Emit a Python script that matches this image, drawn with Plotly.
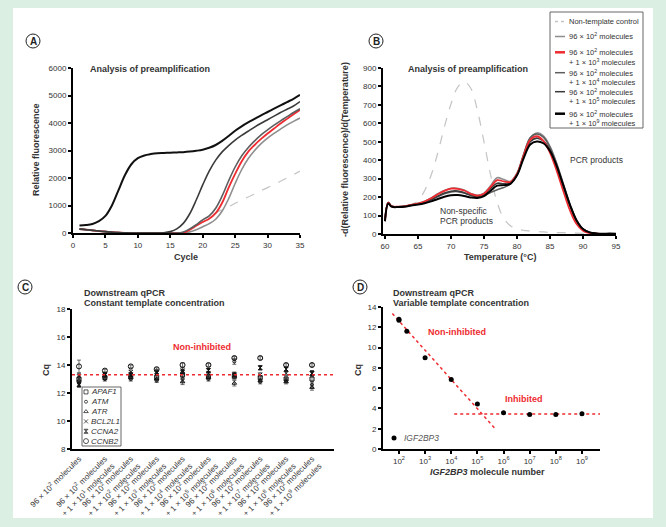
import plotly.graph_objects as go

W, H = 666, 527

# ---------------- data ----------------
# Panel A: amplification curves (cycle 1..35)
cycles = list(range(1, 36))
amp_1e9 = [270, 290, 330, 430, 620, 1000, 1550, 2100, 2500, 2720, 2820, 2870, 2900, 2910, 2920,
           2930, 2940, 2960, 2990, 3030, 3100, 3200, 3350, 3530, 3720, 3880, 4020, 4150, 4280,
           4400, 4520, 4640, 4760, 4880, 5020]
amp_1e5 = [140, 120, 95, 70, 50, 30, 15, 5, 0, 0, 0, 0, 0, 10, 50,
           150, 350, 700, 1200, 1750, 2250, 2650, 2950, 3180, 3380, 3550, 3700, 3850, 3990,
           4120, 4250, 4380, 4500, 4620, 4780]
amp_1e4 = [140, 120, 95, 70, 50, 30, 15, 5, 0, 0, 0, 0, 0, 0, 0,
           0, 40, 150, 300, 480, 620, 900, 1350, 1900, 2400, 2800, 3100, 3350, 3570,
           3750, 3920, 4080, 4230, 4380, 4520]
amp_1e3 = [140, 120, 95, 70, 50, 30, 15, 5, 0, 0, 0, 0, 0, 0, 0,
           0, 0, 120, 260, 400, 520, 720, 1100, 1650, 2150, 2600, 2950, 3200, 3420,
           3620, 3800, 3980, 4150, 4320, 4480]
amp_96e2 = [150, 125, 100, 75, 50, 30, 15, 5, 0, 0, 0, 0, 0, 0, 0,
            0, 0, 40, 120, 230, 340, 500, 800, 1250, 1800, 2300, 2700, 3000, 3250,
            3450, 3620, 3780, 3930, 4060, 4180]
amp_ntc = [None] * 16 + [0, 120, 300, 480, 610, 730, 850, 960, 1080, 1190, 1310, 1420, 1540,
                         1650, 1770, 1880, 2000, 2120, 2250]

# Panel B: melt curves
temps = [60, 60.5] + list(range(61, 96))
melt_ntc = [80, 160, 150, 148, 150, 160, 180, 235, 320, 440, 580, 705, 795, 826, 790, 670, 500,
            320, 170, 85, 45, 28, 20, 16, 13, 11, 9, 8, 7, 6, 5, 4, 3, 2, 2, 1, 1]
melt_96e2 = [70, 170, 150, 148, 150, 158, 166, 178, 196, 218, 236, 248, 248, 238, 220, 210, 222,
             262, 305, 295, 285, 330, 430, 520, 548, 532, 475, 385, 275, 165, 78, 28, 9, 3, 1, 0, 0]
melt_1e3 = [70, 170, 150, 148, 150, 158, 165, 176, 194, 215, 234, 246, 245, 236, 218, 208, 218,
            255, 292, 285, 282, 325, 425, 510, 530, 505, 440, 345, 235, 130, 55, 18, 5, 2, 0, 0, 0]
melt_1e4 = [70, 170, 150, 148, 150, 157, 163, 172, 186, 203, 218, 228, 230, 222, 210, 204, 210,
            225, 240, 252, 272, 325, 430, 522, 542, 525, 470, 380, 270, 160, 75, 26, 8, 3, 1, 0, 0]
melt_1e5 = [70, 170, 150, 148, 150, 157, 163, 172, 187, 205, 222, 232, 233, 224, 210, 203, 215,
            248, 275, 272, 275, 320, 420, 500, 520, 505, 455, 372, 265, 158, 72, 25, 8, 3, 1, 0, 0]
melt_1e9 = [70, 165, 148, 146, 148, 155, 160, 167, 177, 190, 202, 210, 211, 206, 198, 195, 205,
            235, 262, 265, 272, 318, 410, 485, 502, 492, 450, 370, 265, 160, 75, 27, 9, 3, 1, 3, 1]

# Panel C: Cq per condition and gene
c_cats = list(range(10))
c_labels = ["96 × 10<sup>2</sup> molecules"] + [
    "96 × 10<sup>2</sup> molecules<br>+ 1 × 10<sup>%d</sup> molecules" % e for e in range(1, 10)]
genes = ["APAF1", "ATM", "ATR", "BCL2L1", "CCNA2", "CCNB2"]
gene_symbols = ["square-open", "circle-open", "triangle-up-open", "x-thin-open", "hourglass", "circle-open"]
gene_sizes = [4, 3, 4, 4, 4, 5]
cq_apaf1 = [13.0, 13.1, 13.2, 13.1, 13.3, 13.2, 13.2, 13.1, 13.0, 13.0]
cq_atm = [12.7, 13.0, 13.0, 12.9, 13.0, 13.0, 14.25, 12.8, 12.9, 12.6]
cq_atr = [12.9, 13.2, 13.1, 13.0, 12.8, 13.1, 12.7, 12.9, 12.8, 12.4]
cq_bcl2l1 = [13.2, 13.3, 13.5, 13.4, 13.6, 13.4, 13.2, 13.3, 13.4, 13.4]
cq_ccna2 = [12.6, 13.3, 13.3, 13.5, 13.5, 13.6, 13.3, 13.8, 13.7, 13.4]
cq_ccnb2 = [13.9, 13.6, 13.9, 13.7, 14.0, 14.0, 14.5, 14.5, 14.0, 14.0]
cq_err = [0.2, 0.15, 0.15, 0.15, 0.2, 0.15, 0.2, 0.15, 0.15, 0.2]
cq_err_ccnb2 = [0.45, 0.1, 0.1, 0.1, 0.15, 0.1, 0.1, 0.1, 0.1, 0.1]
cq_mean = 13.3

# Panel D: dilution series
d_mol = [1e2, 1e2, 2e2, 1e3, 1e4, 1e5, 1e6, 1e7, 1e8, 1e9]
d_cq = [12.8, 12.7, 11.6, 9.0, 6.85, 4.43, 3.57, 3.41, 3.41, 3.48]
fit_lin_x = [56, 5.0e5]
fit_lin_y = [13.35, 1.95]
fit_inh_x = [1.3e4, 4.9e9]
fit_inh_y = [3.44, 3.44]

# ---------------- helpers ----------------
def px(x):
    return x / W

def py(y):
    return 1 - y / H

FONT = "Arial, Liberation Sans, sans-serif"
TXT = "#333333"
RED = "#ee2b30"

fig = go.Figure()

# Panel A
a_styles = [
    (amp_ntc, "#c4c4c4", 1.2, "dash"),
    (amp_96e2, "#8e8e8e", 1.6, "solid"),
    (amp_1e3, RED, 1.8, "solid"),
    (amp_1e4, "#5e5e5e", 1.6, "solid"),
    (amp_1e5, "#3a3a3a", 1.6, "solid"),
    (amp_1e9, "#111111", 2.0, "solid"),
]
for ys, col, w, dash in a_styles:
    fig.add_trace(go.Scatter(x=cycles, y=ys, mode="lines", line=dict(color=col, width=w, dash=dash, shape="spline"),
                             xaxis="x", yaxis="y", showlegend=False, connectgaps=False))

# Panel B
b_styles = [
    (melt_ntc, "#c4c4c4", 1.2, "dash"),
    (melt_96e2, "#8e8e8e", 1.6, "solid"),
    (melt_1e4, "#5e5e5e", 1.6, "solid"),
    (melt_1e5, "#3a3a3a", 1.6, "solid"),
    (melt_1e3, RED, 1.8, "solid"),
    (melt_1e9, "#000000", 2.0, "solid"),
]
for ys, col, w, dash in b_styles:
    fig.add_trace(go.Scatter(x=temps, y=ys, mode="lines", line=dict(color=col, width=w, dash=dash, shape="spline"),
                             xaxis="x2", yaxis="y2", showlegend=False))

# Panel C
c_series = [cq_apaf1, cq_atm, cq_atr, cq_bcl2l1, cq_ccna2, cq_ccnb2]
for i, ys in enumerate(c_series):
    err = cq_err_ccnb2 if genes[i] == "CCNB2" else cq_err
    fig.add_trace(go.Scatter(x=c_cats, y=ys, mode="markers",
                             marker=dict(symbol=gene_symbols[i], size=gene_sizes[i], color="#111",
                                         line=dict(color="#111", width=1)),
                             error_y=dict(type="data", array=err, color="#333", thickness=0.7, width=2),
                             xaxis="x3", yaxis="y3", showlegend=False))

# Panel D
fig.add_trace(go.Scatter(x=fit_lin_x, y=fit_lin_y, mode="lines", line=dict(color=RED, width=1.5, dash="dot"),
                         xaxis="x4", yaxis="y4", showlegend=False))
fig.add_trace(go.Scatter(x=fit_inh_x, y=fit_inh_y, mode="lines", line=dict(color=RED, width=1.5, dash="dot"),
                         xaxis="x4", yaxis="y4", showlegend=False, cliponaxis=False))
fig.add_trace(go.Scatter(x=d_mol, y=d_cq, mode="markers", marker=dict(color="#000", size=5),
                         xaxis="x4", yaxis="y4", showlegend=False))

# legend markers for panel C (small overlay axis)
fig.add_trace(go.Scatter(x=[0.5] * len(genes), y=[i + 0.5 for i in range(len(genes))], mode="markers",
                         marker=dict(symbol=gene_symbols, size=gene_sizes, color="#111",
                                     line=dict(color="#111", width=1)),
                         xaxis="x5", yaxis="y5", showlegend=False, hoverinfo="skip"))

tickfont = dict(family=FONT, size=8, color=TXT)
axline = dict(showline=True, linecolor="#000", linewidth=2, ticks="outside", ticklen=3, tickwidth=1.5,
              tickcolor="#000", showgrid=False, zeroline=False, tickfont=tickfont, automargin=False)

fig.update_layout(
    width=W, height=H, autosize=False,
    margin=dict(l=0, r=0, t=0, b=0, pad=0, autoexpand=False),
    paper_bgcolor="#dcefe3", plot_bgcolor="rgba(0,0,0,0)",
    font=dict(family=FONT, color=TXT),
    xaxis=dict(domain=[px(73), px(300)], range=[0, 35], tickvals=[0, 5, 10, 15, 20, 25, 30, 35], anchor="y", **axline),
    yaxis=dict(domain=[py(233), py(68)], range=[0, 6000], tickvals=[0, 1000, 2000, 3000, 4000, 5000, 6000],
               anchor="x", **axline),
    xaxis2=dict(domain=[px(383), px(616)], range=[59.7, 95], tickvals=[60, 65, 70, 75, 80, 85, 90, 95],
                anchor="y2", **axline),
    yaxis2=dict(domain=[py(234), py(68)], range=[0, 900], tickvals=list(range(0, 901, 100)), anchor="x2", **axline),
    xaxis3=dict(domain=[px(72), px(334)], range=[-0.27, 9.85], tickvals=c_cats, ticktext=c_labels, tickangle=-45,
                anchor="y3", showline=True, linecolor="#000", linewidth=2, ticks="", showgrid=False, zeroline=False,
                automargin=False, tickfont=dict(family=FONT, size=8, color="#333")),
    yaxis3=dict(domain=[py(449), py(309)], range=[8, 18], tickvals=[8, 10, 12, 14, 16, 18], anchor="x3", **axline),
    xaxis4=dict(domain=[px(383), px(600)], type="log", range=[1.39, 9.69],
                tickvals=[1e2, 1e3, 1e4, 1e5, 1e6, 1e7, 1e8, 1e9],
                ticktext=["10<sup>%d</sup>" % e for e in range(2, 10)], anchor="y4", **axline),
    yaxis4=dict(domain=[py(449), py(307)], range=[0, 14], tickvals=[0, 2, 4, 6, 8, 10, 12, 14], anchor="x4", **axline),
    xaxis5=dict(domain=[px(82), px(90)], range=[0, 1], visible=False, anchor="y5", fixedrange=True),
    yaxis5=dict(domain=[py(446), py(387)], range=[6, 0], visible=False, anchor="x5", fixedrange=True),
)

shapes = [
    dict(type="rect", xref="paper", yref="paper", x0=px(13), x1=px(653), y0=py(518), y1=py(8),
         fillcolor="white", line=dict(width=0), layer="below"),
    # panel B legend box
    dict(type="rect", xref="paper", yref="paper", x0=px(550), x1=px(643), y0=py(128), y1=py(12),
         fillcolor="white", line=dict(color="#666", width=1)),
    # panel C legend box
    dict(type="rect", xref="paper", yref="paper", x0=px(82), x1=px(121), y0=py(446), y1=py(387),
         fillcolor="white", line=dict(color="#666", width=1), layer="below"),
    # panel C mean line
    dict(type="line", xref="x3 domain", yref="y3", x0=0, x1=1, y0=cq_mean, y1=cq_mean,
         line=dict(color=RED, width=1.5, dash="dot")),
    # panel D legend dot
    dict(type="circle", xref="paper", yref="paper", x0=px(391.5), x1=px(396.5), y0=py(440.5), y1=py(435.5),
         fillcolor="#000", line=dict(width=0)),
]

annotations = []

def txt(x, y, s, size=8, bold=False, color=TXT, xanchor="left", angle=0, italic=False):
    if italic:
        s = "<i>" + s + "</i>"
    if bold:
        s = "<b>" + s + "</b>"
    annotations.append(dict(x=px(x), y=py(y), xref="paper", yref="paper", text=s, showarrow=False,
                            xanchor=xanchor, yanchor="middle", textangle=angle,
                            font=dict(family=FONT, size=size, color=color)))

# circled panel letters
for letter, cx, cy in [("A", 33, 41), ("B", 376, 41), ("C", 25, 287), ("D", 360, 287)]:
    shapes.append(dict(type="circle", xref="paper", yref="paper", x0=px(cx - 7), x1=px(cx + 7),
                       y0=py(cy + 7), y1=py(cy - 7), line=dict(color="#222", width=1), fillcolor="white"))
    txt(cx, cy + 0.5, letter, size=10, bold=True, color="#222", xanchor="center")

# panel A text
txt(88, 69, "Analysis of preamplification", size=9, bold=True)
txt(36, 150, "Relative fluorescence", size=9, bold=True, xanchor="center", angle=-90)
txt(186, 257, "Cycle", size=9, bold=True, xanchor="center")

# panel B text
txt(406, 69, "Analysis of preamplification", size=9, bold=True)
txt(345, 150, "-d(Relative fluorescence)/d(Temperature)", size=9, bold=True, xanchor="center", angle=-90)
txt(500, 257, "Temperature (°C)", size=9, bold=True, xanchor="center")
txt(568, 160, "PCR products", size=8.5)
txt(438, 211, "Non-specific", size=8.5)
txt(438, 220.5, "PCR products", size=8.5)

# panel B legend
leg_items = [
    ("Non-template control", None, 21.5, "#c4c4c4", "dash"),
    ("96 × 10<sup>2</sup> molecules", None, 36.5, "#8e8e8e", "solid"),
    ("96 × 10<sup>2</sup> molecules", "+ 1 × 10<sup>3</sup> molecules", 52.3, RED, "solid"),
    ("96 × 10<sup>2</sup> molecules", "+ 1 × 10<sup>4</sup> molecules", 72.7, "#5e5e5e", "solid"),
    ("96 × 10<sup>2</sup> molecules", "+ 1 × 10<sup>5</sup> molecules", 91.7, "#3a3a3a", "solid"),
    ("96 × 10<sup>2</sup> molecules", "+ 1 × 10<sup>9</sup> molecules", 113.7, "#000000", "solid"),
]
for l1, l2, yy, col, dash in leg_items:
    w = 2.5 if col in (RED, "#000000") else 1.5
    shapes.append(dict(type="line", xref="paper", yref="paper", x0=px(555), x1=px(565), y0=py(yy), y1=py(yy),
                       line=dict(color=col, width=w, dash="dot" if dash == "dash" else "solid")))
    txt(567, yy, l1, size=7.5)
    if l2:
        txt(567, yy + 9.5, l2, size=7.5)

# panel C text
txt(82, 293, "Downstream qPCR", size=9, bold=True)
txt(82, 303, "Constant template concentration", size=9, bold=True)
txt(46, 370, "Cq", size=9, bold=True, xanchor="center", angle=-90)
txt(202, 347, "Non-inhibited", size=9, bold=True, color=RED, xanchor="center")
for i, g in enumerate(genes):
    txt(89, 387 + (i + 0.5) * (59 / 6), g, size=8, italic=True)

# panel D text
txt(391, 293, "Downstream qPCR", size=9, bold=True)
txt(391, 303, "Variable template concentration", size=9, bold=True)
txt(358, 370, "Cq", size=9, bold=True, xanchor="center", angle=-90)
txt(487, 472, "<i>IGF2BP3</i> molecule number", size=9, bold=True, xanchor="center")
txt(457, 332, "Non-inhibited", size=9, bold=True, color=RED, xanchor="center")
txt(524, 399, "Inhibited", size=9, bold=True, color=RED, xanchor="center")
txt(402, 438, "IGF2BP3", size=8.5, italic=True, color="#555")

fig.update_layout(shapes=shapes, annotations=annotations)

# drop the page's default body margin so the figure sits at the window origin
fig.write_html("out.html", config={"displayModeBar": False},
               post_script="document.body.style.margin='0';")
